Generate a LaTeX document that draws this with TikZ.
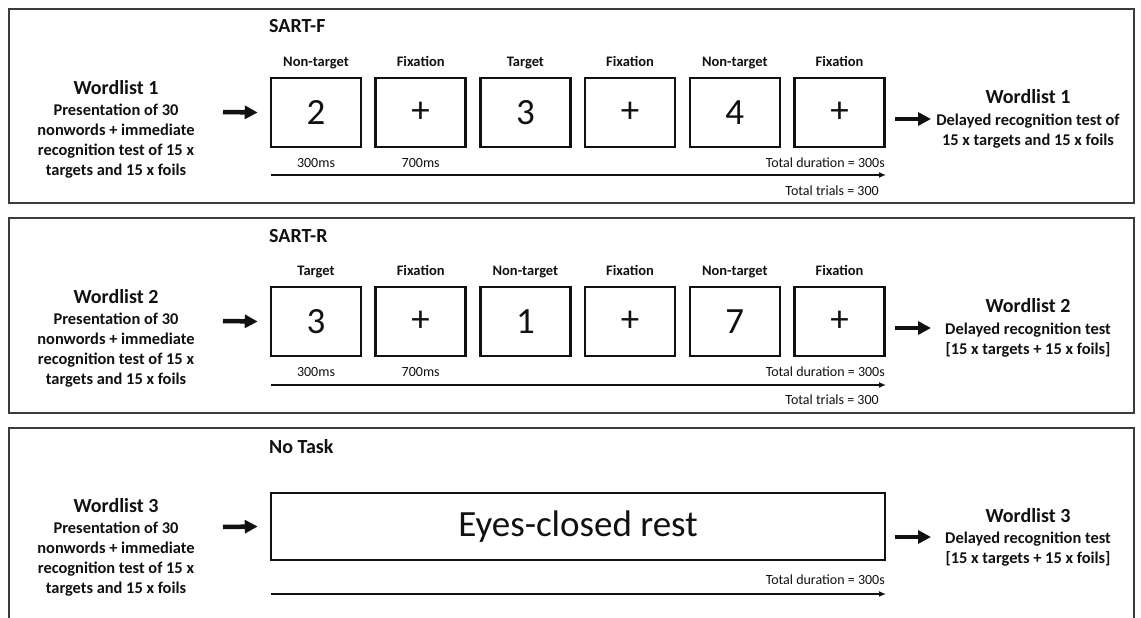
\documentclass[tikz,border=0pt]{standalone}
\usepackage{fontspec}
\setmainfont{Carlito}
\usetikzlibrary{arrows.meta,positioning}
\definecolor{Ink}{HTML}{111111}
\definecolor{FrameGray}{HTML}{3C3C3C}
\tikzset{
  panelframe/.style={draw=FrameGray,line width=2pt},
  paneltitle/.style={anchor=base west,font=\bfseries\fontsize{20}{24}\selectfont,text=Ink,inner sep=0pt},
  stimbox/.style={draw=Ink,line width=2.6pt,minimum width=90pt,minimum height=69pt,inner sep=0pt,font=\fontsize{37}{40}\selectfont,text=Ink},
  restbox/.style={stimbox,minimum width=614pt,minimum height=67pt},
  stimlabel/.style={anchor=base,font=\bfseries\fontsize{14.5}{16}\selectfont,text=Ink,inner sep=0pt},
  timinglabel/.style={anchor=base,font=\fontsize{14}{16}\selectfont,text=Ink,inner sep=0pt},
  listtitle/.style={font=\bfseries\fontsize{20}{24}\selectfont,text=Ink,inner sep=0pt},
  listtext/.style={anchor=north,align=center,font=\bfseries\fontsize{16.4}{19.8}\selectfont,text=Ink,inner sep=0pt},
  bigarrow/.style={line width=4.5pt,Ink,-{Triangle[length=13pt,width=13pt]}},
  timeline/.style={line width=2pt,Ink,-{Latex[length=7pt,width=6pt]}}
}

\begin{document}
\begin{tikzpicture}[x=1pt,y=-1pt]
  \useasboundingbox[fill=white] (0,0) rectangle (1141,618);

  % SART-F panel
  \draw[panelframe] (9,9) rectangle (1134,203);
  \node[paneltitle] (t1) at (269,33) {SART-F};
  \node[listtitle] (w1) at (116,88) {Wordlist 1};
  \node[listtext] (w1d) at (116,104) {Presentation of 30\\nonwords + immediate\\recognition test of 15 x\\targets and 15 x foils};
  \node[stimbox] (b11) at (316,112.5) {2};
  \node[stimbox] (b12) at (420.7,112.5) {+};
  \node[stimbox] (b13) at (525.4,112.5) {3};
  \node[stimbox] (b14) at (630.1,112.5) {+};
  \node[stimbox] (b15) at (734.8,112.5) {4};
  \node[stimbox] (b16) at (839.5,112.5) {+};
  \node[stimlabel] (l11) at (316,66.5) {Non-target};
  \node[stimlabel] (l12) at (420.7,66.5) {Fixation};
  \node[stimlabel] (l13) at (525.4,66.5) {Target};
  \node[stimlabel] (l14) at (630.1,66.5) {Fixation};
  \node[stimlabel] (l15) at (734.8,66.5) {Non-target};
  \node[stimlabel] (l16) at (839.5,66.5) {Fixation};
  \node[timinglabel] (m11) at (316,167) {300ms};
  \node[timinglabel] (m12) at (420.7,167) {700ms};
  \node[timinglabel,anchor=base east] (d1) at (885,167) {Total duration = 300s};
  \node[timinglabel,anchor=base east] (n1) at (879,195) {Total trials = 300};
  \coordinate (s1a) at (271,175);
  \coordinate (s1b) at (886,175);
  \draw[timeline] (s1a) -- (s1b);
  \coordinate (a1a) at (223,112);
  \draw[bigarrow] (a1a) -- ([xshift=-12pt]b11.west);
  \coordinate (r1a) at (895,119);
  \coordinate (r1b) at (931,119);
  \draw[bigarrow] (r1a) -- (r1b);
  \node[listtitle] (v1) at (1028,97) {Wordlist 1};
  \node[listtext] (v1d) at (1028,114) {Delayed recognition test of\\15 x targets and 15 x foils};

  % SART-R panel
  \draw[panelframe] (9,218) rectangle (1134,413);
  \node[paneltitle] (t2) at (269,242) {SART-R};
  \node[listtitle] (w2) at (116,297) {Wordlist 2};
  \node[listtext] (w2d) at (116,313) {Presentation of 30\\nonwords + immediate\\recognition test of 15 x\\targets and 15 x foils};
  \node[stimbox] (b21) at (316,321.5) {3};
  \node[stimbox] (b22) at (420.7,321.5) {+};
  \node[stimbox] (b23) at (525.4,321.5) {1};
  \node[stimbox] (b24) at (630.1,321.5) {+};
  \node[stimbox] (b25) at (734.8,321.5) {7};
  \node[stimbox] (b26) at (839.5,321.5) {+};
  \node[stimlabel] (l21) at (316,275.5) {Target};
  \node[stimlabel] (l22) at (420.7,275.5) {Fixation};
  \node[stimlabel] (l23) at (525.4,275.5) {Non-target};
  \node[stimlabel] (l24) at (630.1,275.5) {Fixation};
  \node[stimlabel] (l25) at (734.8,275.5) {Non-target};
  \node[stimlabel] (l26) at (839.5,275.5) {Fixation};
  \node[timinglabel] (m21) at (316,376) {300ms};
  \node[timinglabel] (m22) at (420.7,376) {700ms};
  \node[timinglabel,anchor=base east] (d2) at (885,376) {Total duration = 300s};
  \node[timinglabel,anchor=base east] (n2) at (879,404) {Total trials = 300};
  \coordinate (s2a) at (271,385);
  \coordinate (s2b) at (886,385);
  \draw[timeline] (s2a) -- (s2b);
  \coordinate (a2a) at (223,321);
  \draw[bigarrow] (a2a) -- ([xshift=-12pt]b21.west);
  \coordinate (r2a) at (895,328);
  \coordinate (r2b) at (931,328);
  \draw[bigarrow] (r2a) -- (r2b);
  \node[listtitle] (v2) at (1028,306) {Wordlist 2};
  \node[listtext] (v2d) at (1028,323) {Delayed recognition test\\{[15 x targets + 15 x foils]}};

  % No Task panel
  \draw[panelframe] (9,618) -- (9,428) -- (1134,428) -- (1134,618);
  \node[paneltitle] (t3) at (269,453) {No Task};
  \node[listtitle] (w3) at (116,506) {Wordlist 3};
  \node[listtext] (w3d) at (116,522) {Presentation of 30\\nonwords + immediate\\recognition test of 15 x\\targets and 15 x foils};
  \node[restbox] (rest) at (578,526.5) {Eyes-closed rest};
  \node[timinglabel,anchor=base east] (d3) at (885,584) {Total duration = 300s};
  \coordinate (s3a) at (271,594);
  \coordinate (s3b) at (886,594);
  \draw[timeline] (s3a) -- (s3b);
  \coordinate (a3a) at (223,527);
  \draw[bigarrow] (a3a) -- ([xshift=-12pt]rest.west);
  \coordinate (r3a) at (895,537);
  \coordinate (r3b) at (931,537);
  \draw[bigarrow] (r3a) -- (r3b);
  \node[listtitle] (v3) at (1028,516) {Wordlist 3};
  \node[listtext] (v3d) at (1028,532) {Delayed recognition test\\{[15 x targets + 15 x foils]}};
\end{tikzpicture}
\end{document}
